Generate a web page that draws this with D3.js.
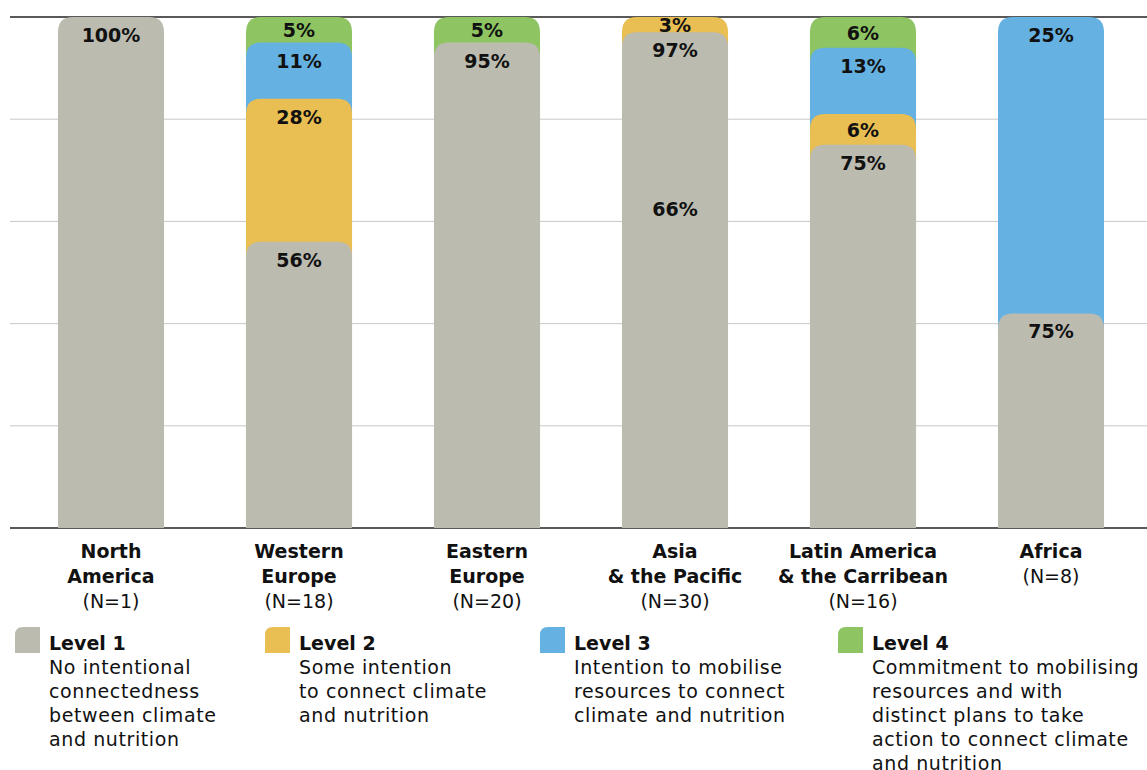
<!DOCTYPE html>
<html><head><meta charset="utf-8">
<script src="https://cdn.jsdelivr.net/npm/d3@7"></script>
<style>
html,body{margin:0;padding:0;background:#fff;}
svg{display:block;font-family:"DejaVu Sans",sans-serif;}
</style></head>
<body>
<svg id="chart" width="1147" height="770"></svg>
<script>
// ---- data ----
const regionNames = [["North","America"],["Western","Europe"],["Eastern","Europe"],["Asia","& the Pacific"],["Latin America","& the Carribean"],["Africa"]];
const regionN = ["(N=1)","(N=18)","(N=20)","(N=30)","(N=16)","(N=8)"];
const level1 = [100, 56, 95, 97, 75, 42];
const level2 = [0, 28, 0, 3, 6, 0];
const level3 = [0, 11, 0, 0, 13, 58];
const level4 = [0, 5, 5, 0, 6, 0];
const level1Labels = ["100%","56%","95%","97%","75%","75%"];
const level2Labels = ["","28%","","3%","6%",""];
const level3Labels = ["","11%","","","13%","25%"];
const level4Labels = ["","5%","5%","","6%",""];
const extraLabels = [{region:3, at:66, text:"66%"}];
const yTicks = [0,20,40,60,80,100];
const levelNames = ["Level 1","Level 2","Level 3","Level 4"];
const levelDescs = [
  ["No intentional","connectedness","between climate","and nutrition"],
  ["Some intention","to connect climate","and nutrition"],
  ["Intention to mobilise","resources to connect","climate and nutrition"],
  ["Commitment to mobilising","resources and with","distinct plans to take","action to connect climate","and nutrition"]
];
const colors = ["#bbbbb0","#e9be52","#65b1e2","#8ec461"];

// ---- build ----
const svg = d3.select("#chart");
const levels = [level1, level2, level3, level4];
const labels = [level1Labels, level2Labels, level3Labels, level4Labels];

const x = d3.scaleBand().domain(d3.range(regionNames.length)).range([17,1145]).paddingInner(0.436).paddingOuter(0.218);
const y = d3.scaleLinear().domain([0,100]).range([528,17]);

// gridlines
svg.append("g").selectAll("line").data(yTicks).join("line")
  .attr("x1",10).attr("x2",1147)
  .attr("y1",d=>y(d)).attr("y2",d=>y(d))
  .attr("stroke",d=>(d===0||d===100)?"#222":"#c9c9c9")
  .attr("stroke-width",d=>(d===0||d===100)?1.5:1);

function topRounded(x0,y0,w,h,r){
  r=Math.min(r,w/2,h);
  return `M${x0},${y0+h}V${y0+r}Q${x0},${y0} ${x0+r},${y0}H${x0+w-r}Q${x0+w},${y0} ${x0+w},${y0+r}V${y0+h}Z`;
}

const segs=[];
regionNames.forEach((_,i)=>{
  let cum=0;
  levels.forEach((arr,l)=>{
    const v=arr[i];
    if(v>0){segs.push({i,l,v,lo:cum,hi:cum+v,label:labels[l][i]});}
    cum+=v;
  });
});
// draw from top-most segment to bottom
const drawOrder = segs.slice().sort((a,b)=>a.i-b.i || b.hi-a.hi);
const bars = svg.append("g");
drawOrder.forEach(s=>{
  const x0=x(s.i), w=x.bandwidth();
  const yt=y(s.hi), yb=y(0);
  bars.append("path").attr("d",topRounded(x0,yt,w,yb-yt,15)).attr("fill",colors[s.l]);
});

const lab = svg.append("g").attr("font-size",19).attr("font-weight","bold").attr("fill","#111").attr("text-anchor","middle");
segs.forEach(s=>{
  if(!s.label) return;
  const h=y(s.lo)-y(s.hi);
  const cy=y(s.hi)+Math.min(18,h/2+0.5);
  lab.append("text").attr("x",x(s.i)+x.bandwidth()/2).attr("y",cy+7).text(s.label);
});
extraLabels.forEach(e=>{
  lab.append("text").attr("x",x(e.region)+x.bandwidth()/2).attr("y",y(e.at)+18+7).text(e.text);
});

// category labels
const cat = svg.append("g").attr("font-size",19).attr("fill","#111").attr("text-anchor","middle");
regionNames.forEach((lines,i)=>{
  const cx=x(i)+x.bandwidth()/2;
  lines.forEach((t,k)=>{
    cat.append("text").attr("x",cx).attr("y",558+k*25).attr("font-weight","bold").text(t);
  });
  cat.append("text").attr("x",cx).attr("y",558+lines.length*25).text(regionN[i]);
});

// legend
const legX=[15,265,540,838];
const leg=svg.append("g").attr("font-size",19).attr("fill","#111");
levelNames.forEach((n,l)=>{
  const g=leg.append("g").attr("transform",`translate(${legX[l]},627)`);
  g.append("path").attr("d","M0,26V8Q0,0 8,0H25V26Z").attr("fill",colors[l]);
  g.append("text").attr("x",34).attr("y",23).attr("font-weight","bold").text(n);
  levelDescs[l].forEach((t,k)=>{
    g.append("text").attr("x",34).attr("y",47+k*24).attr("letter-spacing",0.6).text(t);
  });
});
</script>
</body></html>
